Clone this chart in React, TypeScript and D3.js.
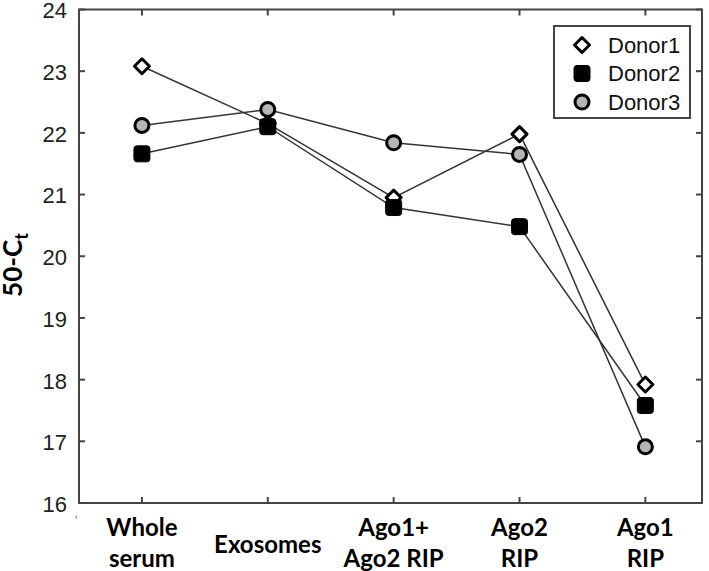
import React from "react";
import * as d3 from "d3";

const categories = ["Whole serum", "Exosomes", "Ago1+ Ago2 RIP", "Ago2 RIP", "Ago1 RIP"];
const categoryLines = [["Whole", "serum"], ["Exosomes"], ["Ago1+", "Ago2 RIP"], ["Ago2", "RIP"], ["Ago1", "RIP"]];
const donor1 = [23.08, 22.15, 20.95, 21.98, 17.92];
const donor2 = [21.66, 22.1, 20.79, 20.48, 17.58];
const donor3 = [22.12, 22.38, 21.84, 21.65, 16.91];
const seriesNames = ["Donor1", "Donor2", "Donor3"];
const yTicks = [16, 17, 18, 19, 20, 21, 22, 23, 24];

const W = 709, H = 571;
const L = 79, R = 702, T = 9.5, B = 503;

function Marker({ kind, x, y }: { kind: string; x: number; y: number }) {
  if (kind === "Donor1") {
    const s = 7.5;
    return (
      <path
        d={`M${x},${y - s}L${x + s},${y}L${x},${y + s}L${x - s},${y}Z`}
        fill="#fff" stroke="#000" strokeWidth={3} strokeLinejoin="round"
      />
    );
  }
  if (kind === "Donor2") {
    return <rect x={x - 8} y={y - 8} width={16} height={16} rx={3} fill="#000" stroke="#000" strokeWidth={1} />;
  }
  return <circle cx={x} cy={y} r={7} fill="#b5b5b5" stroke="#000" strokeWidth={3} />;
}

export default function App() {
  const x = d3.scaleLinear().domain([-0.5, 4.45]).range([L, R]);
  const y = d3.scaleLinear().domain([16, 24]).range([B, T]);
  const data = [donor1, donor2, donor3];
  const line = d3.line<number>().x((_, i) => x(i)).y((d) => y(d));
  const drawOrder = [0, 2, 1];

  return (
    <svg width={W} height={H} style={{ position: "absolute", left: 0, top: 0, background: "#fff" }}>
      <rect x={L} y={T} width={R - L} height={B - T} fill="none" stroke="#444" strokeWidth={2} />
      {yTicks.map((t) => (
        <g key={t}>
          <line x1={L} x2={L + 6} y1={y(t)} y2={y(t)} stroke="#444" strokeWidth={2} />
          <line x1={R} x2={R - 6} y1={y(t)} y2={y(t)} stroke="#444" strokeWidth={2} />
          <text x={L - 12} y={y(t) + 1} dy="0.36em" textAnchor="end" fontFamily="'Liberation Sans', Arial, sans-serif" fontSize={22} fill="#222">
            {t}
          </text>
        </g>
      ))}
      {categories.map((c, i) => (
        <g key={c}>
          <line x1={x(i)} x2={x(i)} y1={B} y2={B - 6} stroke="#444" strokeWidth={2} />
          <line x1={x(i)} x2={x(i)} y1={T} y2={T + 6} stroke="#444" strokeWidth={2} />
          {categoryLines[i].map((ln, j) => {
            const n = categoryLines[i].length;
            const cy = n === 1 ? 544 : j === 0 ? 527 : 558;
            return (
              <text key={j} x={x(i)} y={cy} dy="0.36em" textAnchor="middle" fontFamily="Lato, 'Open Sans', sans-serif" fontWeight="bold" fontSize={24} fill="#000">
                {ln}
              </text>
            );
          })}
        </g>
      ))}
      <text x={75} y={525} fontSize={12} fill="#666" fontFamily="'Liberation Sans', Arial, sans-serif">'</text>

      <text transform={`translate(22,${265}) rotate(-90)`} textAnchor="middle" fontFamily="Lato, 'Open Sans', sans-serif" fontWeight="bold" fontSize={26} fill="#000">
        50-C<tspan fontSize={18} dy="6">t</tspan>
      </text>

      {drawOrder.map((k) => (
        <path key={"l" + k} d={line(data[k]) || ""} fill="none" stroke="#333" strokeWidth={1.5} />
      ))}
      {drawOrder.map((k) => (
        <g key={"m" + k}>
          {data[k].map((v, i) => (
            <Marker key={i} kind={seriesNames[k]} x={x(i)} y={y(v)} />
          ))}
        </g>
      ))}

      <rect x={554} y={26} width={136} height={92} fill="#fff" stroke="#444" strokeWidth={2} />
      {seriesNames.map((s, i) => (
        <g key={s}>
          <Marker kind={s} x={582} y={45 + i * 28.5} />
          <text x={608} y={45 + i * 28.5} dy="0.36em" fontFamily="'Liberation Sans', Arial, sans-serif" fontSize={22} fill="#111">
            {s}
          </text>
        </g>
      ))}
    </svg>
  );
}
